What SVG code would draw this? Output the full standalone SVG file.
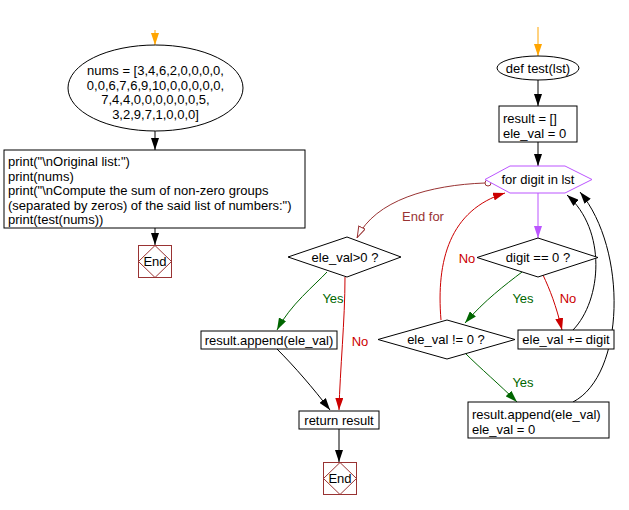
<svg xmlns="http://www.w3.org/2000/svg" width="629" height="510" viewBox="0 0 629 510">
<style>
text{font-family:"Liberation Sans",Arial,sans-serif;font-size:13px;fill:#000}
.n{fill:#fff;stroke:#000;stroke-width:1}
.e{fill:none;stroke:#000;stroke-width:1}
.end{fill:none;stroke:#993333;stroke-width:1}
.c{text-anchor:middle}
.yes{fill:#006600}
.no{fill:#CC0000}
</style>
<defs>
<marker id="ak" markerWidth="12" markerHeight="8" refX="12" refY="4" orient="auto" markerUnits="userSpaceOnUse"><path d="M0,0 L12,4 L0,8 z" fill="#000"/></marker>
<marker id="ar" markerWidth="12" markerHeight="8" refX="12" refY="4" orient="auto" markerUnits="userSpaceOnUse"><path d="M0,0 L12,4 L0,8 z" fill="#CC0000"/></marker>
<marker id="ag" markerWidth="12" markerHeight="8" refX="12" refY="4" orient="auto" markerUnits="userSpaceOnUse"><path d="M0,0 L12,4 L0,8 z" fill="#006600"/></marker>
<marker id="av" markerWidth="12" markerHeight="8" refX="12" refY="4" orient="auto" markerUnits="userSpaceOnUse"><path d="M0,0 L12,4 L0,8 z" fill="#BB55FF"/></marker>
<marker id="ao" markerWidth="12" markerHeight="8" refX="12" refY="4" orient="auto" markerUnits="userSpaceOnUse"><path d="M0,0 L12,4 L0,8 z" fill="#FFA500"/></marker>
<marker id="aopen" markerWidth="12" markerHeight="8" refX="12" refY="4" orient="auto" markerUnits="userSpaceOnUse"><path d="M0.5,0.5 L11.5,4 L0.5,7.5 z" fill="#fff" stroke="#993333" stroke-width="1"/></marker>
</defs>
<rect width="629" height="510" fill="#fff"/>

<g id="connectors">
<path class="e" d="M155,30 L155,45" style="stroke:#FFA500" marker-end="url(#ao)"/>
<path class="e" d="M155,131 L155,150" marker-end="url(#ak)"/>
<path class="e" d="M155,228 L155,245" marker-end="url(#ak)"/>
<path class="e" d="M538,27 L538,56" style="stroke:#FFA500" marker-end="url(#ao)"/>
<path class="e" d="M538,80 L538,106" marker-end="url(#ak)"/>
<path class="e" d="M538,142 L538,166" marker-end="url(#ak)"/>
<path class="e" d="M538,193 L538,238" style="stroke:#BB55FF" marker-end="url(#av)"/>
<path class="e" d="M543,275 C550,290 556,305 562,330" style="stroke:#CC0000" marker-end="url(#ar)"/>
<path class="e" d="M522,272 C505,285 485,300 465,323" style="stroke:#006600" marker-end="url(#ag)"/>
<path class="e" d="M441,320 C436,260 450,210 505,193" style="stroke:#CC0000" marker-end="url(#ar)"/>
<path class="e" d="M573,330 C602,300 607,230 567,195" marker-end="url(#ak)"/>
<path class="e" d="M465,353 C480,368 500,385 517,402" style="stroke:#006600" marker-end="url(#ag)"/>
<path class="e" d="M573,402 C625,375 628,250 580,192" marker-end="url(#ak)"/>
<path class="e" d="M485,183 C430,185 375,200 357,238" style="stroke:#993333" marker-end="url(#aopen)"/>
<circle cx="488" cy="183" r="3" fill="#fff" stroke="#993333"/>
<path class="e" d="M327,272 C315,285 290,305 277,330" style="stroke:#006600" marker-end="url(#ag)"/>
<path class="e" d="M345,277 C345,320 340,370 339,410" style="stroke:#CC0000" marker-end="url(#ar)"/>
<path class="e" d="M277,349 C295,367 313,388 330,410" marker-end="url(#ak)"/>
<path class="e" d="M339,429 L339,462" marker-end="url(#ak)"/>
<text x="423" y="221" class="c" style="fill:#993333">End for</text>
<text x="467" y="263" class="c no">No</text>
<text x="523" y="303" class="c yes">Yes</text>
<text x="568" y="303" class="c no">No</text>
<text x="523" y="387" class="c yes">Yes</text>
<text x="333" y="303" class="c yes">Yes</text>
<text x="360" y="346" class="c no">No</text>
</g>

<g id="nums">
<ellipse class="n" cx="155.5" cy="88" rx="87.5" ry="43"/>
<text x="155.5" y="75" class="c">nums = [3,4,6,2,0,0,0,0,</text>
<text x="155.5" y="89.5" class="c">0,0,6,7,6,9,10,0,0,0,0,0,</text>
<text x="155.5" y="104" class="c">7,4,4,0,0,0,0,0,0,5,</text>
<text x="155.5" y="118.5" class="c">3,2,9,7,1,0,0,0]</text>
</g>

<g id="prints">
<rect class="n" x="4" y="150" width="301" height="78"/>
<text x="8" y="166">print("\nOriginal list:")</text>
<text x="8" y="180.5">print(nums)</text>
<text x="8" y="195">print("\nCompute the sum of non-zero groups</text>
<text x="8" y="209.5">(separated by zeros) of the said list of numbers:")</text>
<text x="8" y="224">print(test(nums))</text>
</g>

<g id="end1">
<rect class="end" x="138.5" y="245.5" width="33" height="32"/>
<polygon class="end" points="155,245.5 171.5,261.5 155,277.5 138.5,261.5"/>
<text x="155" y="266" class="c">End</text>
</g>

<g id="deftest">
<ellipse class="n" cx="538" cy="68" rx="41" ry="12"/>
<text x="538" y="72.5" class="c">def test(lst)</text>
</g>

<g id="init">
<rect class="n" x="499" y="106" width="78" height="36"/>
<text x="503" y="123">result = []</text>
<text x="503" y="138">ele_val = 0</text>
</g>

<g id="forloop">
<polygon points="485,179.5 510,166 565,166 592,179.5 565,193 510,193" fill="#fff" stroke="#BB55FF"/>
<text x="538" y="184" class="c">for digit in lst</text>
</g>

<g id="digitzero">
<polygon class="n" points="538,238 598,257.5 538,277 477,257.5"/>
<text x="538" y="262" class="c">digit == 0 ?</text>
</g>

<g id="elevalnz">
<polygon class="n" points="447,320 515,339.5 447,359 378,339.5"/>
<text x="446" y="344" class="c">ele_val != 0 ?</text>
</g>

<g id="addval">
<rect class="n" x="518" y="330" width="96" height="19"/>
<text x="566" y="344" class="c">ele_val += digit</text>
</g>

<g id="appendreset">
<rect class="n" x="468" y="402" width="141" height="36"/>
<text x="472" y="419">result.append(ele_val)</text>
<text x="472" y="434">ele_val = 0</text>
</g>

<g id="elevalgt">
<polygon class="n" points="347,237 401,257 347,277 288,257"/>
<text x="345" y="261.5" class="c">ele_val&gt;0 ?</text>
</g>

<g id="appendfinal">
<rect class="n" x="201" y="331" width="136" height="18"/>
<text x="269" y="344.5" class="c">result.append(ele_val)</text>
</g>

<g id="returnres">
<rect class="n" x="299" y="411" width="80" height="18"/>
<text x="339" y="424.5" class="c">return result</text>
</g>

<g id="end2">
<rect class="end" x="323.5" y="462.5" width="33" height="32"/>
<polygon class="end" points="340,462.5 356.5,478.5 340,494.5 323.5,478.5"/>
<text x="340" y="483" class="c">End</text>
</g>
</svg>
